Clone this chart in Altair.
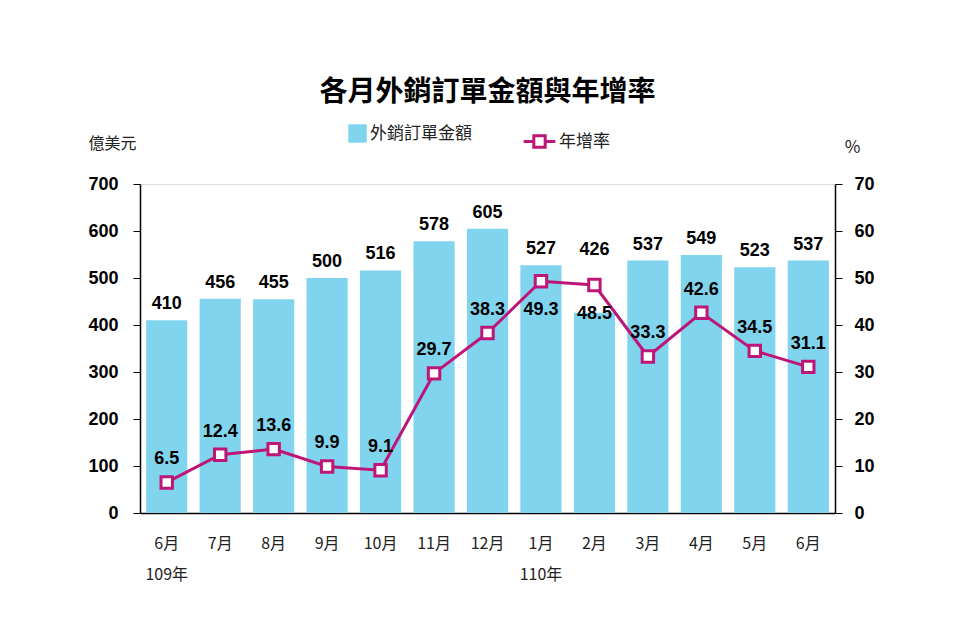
import altair as alt
import pandas as pd

months = ['6月', '7月', '8月', '9月', '10月', '11月', '12月', '1月', '2月', '3月', '4月', '5月', '6月']
years = ['109年', '', '', '', '', '', '', '110年', '', '', '', '', '']
orders = [410, 456, 455, 500, 516, 578, 605, 527, 426, 537, 549, 523, 537]
growth = [6.5, 12.4, 13.6, 9.9, 9.1, 29.7, 38.3, 49.3, 48.5, 33.3, 42.6, 34.5, 31.1]
series_bar = '外銷訂單金額'
series_line = '年增率'

BLUE = '#80d4ee'
MAG = '#bd1677'
NUM_FONT = 'Liberation Sans Narrow, Arial Narrow, Liberation Sans, Arial'
CJK_FONT = 'Noto Sans CJK TC'

df = pd.DataFrame({
    'idx': list(range(len(months))),
    'month': months,
    'year': years,
    'orders': orders,
    'growth': growth,
    's1': series_bar,
    's2': series_line,
})

label_expr = '[' + ','.join(f"['{m}','{y}']" for m, y in zip(months, years)) + '][datum.value]'

x = alt.X('idx:O',
          scale=alt.Scale(paddingInner=0.23, paddingOuter=0.115),
          axis=alt.Axis(title=None, labelExpr=label_expr, labelAngle=0, ticks=False,
                        labelPadding=22, labelFontSize=16, labelLineHeight=31,
                        labelFont=CJK_FONT, labelColor='#222', domainColor='black',
                        domainWidth=1.5))

base = alt.Chart(df)

y_left = alt.Y('orders:Q',
               scale=alt.Scale(domain=[0, 700], nice=False),
               axis=alt.Axis(title='億美元', values=list(range(0, 701, 100)), grid=False,
                             tickSize=7, tickColor='black', domainColor='black', domainWidth=1.5,
                             labelPadding=15, labelFontSize=18, labelFont=NUM_FONT,
                             labelFontWeight='bold', labelColor='black',
                             titleAngle=0, titleAlign='center', titleBaseline='middle',
                             titleX=-28, titleY=-41, titleFont=CJK_FONT, titleFontSize=16,
                             titleFontWeight='normal', titleColor='#222'))

bars = base.mark_bar(color=BLUE).encode(
    x=x,
    y=y_left,
    color=alt.Color('s1:N', scale=alt.Scale(domain=[series_bar], range=[BLUE]),
                    legend=alt.Legend(title=None, orient='none', legendX=208, legendY=-60,
                                      symbolType='square', symbolSize=340, symbolStrokeWidth=0,
                                      labelFontSize=17, labelFont=CJK_FONT, labelColor='#222',
                                      labelOffset=3)),
)

# bar labels: lifted above the growth marker when the marker stands above the bar
bar_text = base.transform_calculate(
    label_pos='datum.orders < datum.growth * 10 ? datum.growth * 10 + 40 : datum.orders'
).mark_text(baseline='bottom', dy=-7, font=NUM_FONT, fontSize=18,
            fontWeight='bold', color='black').encode(
    x=x, y=alt.Y('label_pos:Q'), text=alt.Text('orders:Q'))

left = alt.layer(bars, bar_text)

y_right = alt.Y('growth:Q',
                scale=alt.Scale(domain=[0, 70], nice=False),
                axis=alt.Axis(title='%', orient='right', values=list(range(0, 71, 10)), grid=False,
                              tickSize=7, tickColor='black', domainColor='black', domainWidth=1.5,
                              labelPadding=12, labelFontSize=18, labelFont=NUM_FONT,
                              labelFontWeight='bold', labelColor='black',
                              titleAngle=0, titleAlign='center', titleBaseline='middle',
                              titleX=17, titleY=-37, titleFont=CJK_FONT, titleFontSize=17,
                              titleFontWeight='normal', titleColor='#222'))

line = base.mark_line(strokeWidth=3).encode(
    x=x,
    y=y_right,
    stroke=alt.Stroke('s2:N', scale=alt.Scale(domain=[series_line], range=[MAG]),
                      legend=alt.Legend(title=None, orient='none', legendX=382, legendY=-60,
                                        symbolType='M-1,0H-0.36M0.36,0H1M-0.36,-0.36H0.36V0.36H-0.36Z',
                                        symbolSize=1000, symbolStrokeWidth=3,
                                        symbolFillColor='white',
                                        labelFontSize=17, labelFont=CJK_FONT, labelColor='#222',
                                        labelOffset=2)),
)

points = base.mark_point(shape='square', size=130, filled=True, fill='white', stroke=MAG,
                         strokeWidth=3, opacity=1).encode(x=x, y=alt.Y('growth:Q'))

text_above = base.transform_filter('datum.growth < 45').mark_text(
    baseline='bottom', dy=-14, font=NUM_FONT, fontSize=18, fontWeight='bold', color='black'
).encode(x=x, y=alt.Y('growth:Q'), text=alt.Text('growth:Q', format='.1f'))

text_below = base.transform_filter('datum.growth >= 45').mark_text(
    baseline='top', dy=20, font=NUM_FONT, fontSize=18, fontWeight='bold', color='black'
).encode(x=x, y=alt.Y('growth:Q'), text=alt.Text('growth:Q', format='.1f'))

right = alt.layer(line, points, text_above, text_below)

chart = alt.layer(left, right).resolve_scale(y='independent').properties(
    width=695, height=329,
    title=alt.Title('各月外銷訂單金額與年增率', font=CJK_FONT, fontSize=28, fontWeight='bold',
                    color='black', anchor='middle', offset=17),
    autosize=alt.AutoSizeParams(type='none'),
    padding={'left': 140, 'top': 184, 'right': 125, 'bottom': 127},
).configure_view(stroke=None).configure(background='white')

chart.save('out.html', embed_options={'renderer': 'svg', 'actions': False})
